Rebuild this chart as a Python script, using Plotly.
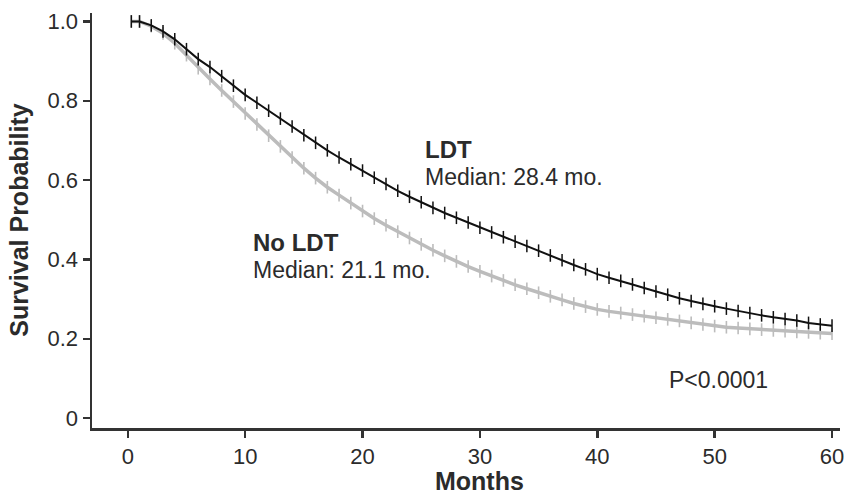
import plotly.graph_objects as go

# Kaplan-Meier estimates (month, survival probability)
months = [0.3, 1, 2, 3, 4, 5, 6, 7, 8, 9, 10, 11, 12, 13, 14, 15, 16, 17, 18, 19, 20,
          21, 22, 23, 24, 25, 26, 27, 28, 29, 30, 31, 32, 33, 34, 35, 36, 37, 38, 39, 40,
          41, 42, 43, 44, 45, 46, 47, 48, 49, 50, 51, 52, 53, 54, 55, 56, 57, 58, 59, 60]

surv_ldt = [1.000, 1.000, 0.990, 0.975, 0.955, 0.930, 0.905, 0.885, 0.862, 0.838, 0.815,
            0.795, 0.775, 0.755, 0.735, 0.713, 0.694, 0.675, 0.657, 0.640, 0.624,
            0.606, 0.590, 0.573, 0.558, 0.544, 0.530, 0.517, 0.505, 0.493, 0.480,
            0.468, 0.456, 0.445, 0.434, 0.422, 0.410, 0.398, 0.386, 0.375, 0.363,
            0.354, 0.346, 0.337, 0.328, 0.319, 0.311, 0.302, 0.295, 0.288, 0.282,
            0.276, 0.270, 0.265, 0.259, 0.254, 0.250, 0.246, 0.240, 0.236, 0.233]

surv_noldt = [1.000, 1.000, 0.988, 0.970, 0.945, 0.915, 0.882, 0.855, 0.826, 0.798, 0.768,
              0.740, 0.712, 0.685, 0.657, 0.630, 0.605, 0.582, 0.562, 0.542, 0.522,
              0.503, 0.486, 0.470, 0.454, 0.438, 0.423, 0.409, 0.395, 0.382, 0.370,
              0.358, 0.347, 0.336, 0.326, 0.316, 0.307, 0.298, 0.289, 0.281, 0.274,
              0.269, 0.265, 0.261, 0.257, 0.253, 0.249, 0.245, 0.240, 0.236, 0.232,
              0.229, 0.227, 0.225, 0.223, 0.221, 0.219, 0.217, 0.216, 0.214, 0.213]

x_ticks = [0, 10, 20, 30, 40, 50, 60]
y_ticks = [0, 0.2, 0.4, 0.6, 0.8, 1.0]
y_tick_labels = ["0", "0.2", "0.4", "0.6", "0.8", "1.0"]

FONT = "Liberation Sans, Arial, sans-serif"
AX = "#333333"
TXT = "#2b2b2b"
GRAY = "#bcbcbc"

fig = go.Figure()
fig.add_trace(go.Scatter(
    x=months, y=surv_noldt, mode="lines+markers", name="No LDT",
    line=dict(color=GRAY, width=3.5),
    marker=dict(symbol="line-ns-open", size=9, line=dict(color=GRAY, width=1.6)),
    showlegend=False, hoverinfo="skip"))
fig.add_trace(go.Scatter(
    x=months, y=surv_ldt, mode="lines+markers", name="LDT",
    line=dict(color="#111111", width=2),
    marker=dict(symbol="line-ns-open", size=9, line=dict(color="#111111", width=1.5)),
    showlegend=False, hoverinfo="skip"))

annos = [
    dict(x=25.17, y=0.677, text="<b>LDT</b>", size=24),
    dict(x=25.17, y=0.608, text="Median: 28.4 mo.", size=23),
    dict(x=10.5, y=0.442, text="<b>No LDT</b>", size=24),
    dict(x=10.5, y=0.373, text="Median: 21.1 mo.", size=23),
    dict(x=45.9, y=0.095, text="P&lt;0.0001", size=23),
]
for a in annos:
    fig.add_annotation(x=a["x"], y=a["y"], xref="x", yref="y", text=a["text"],
                       showarrow=False, xanchor="left", yanchor="middle",
                       font=dict(family=FONT, size=a["size"], color=TXT))

fig.add_annotation(x=30, y=-0.127, xref="x", yref="paper", text="<b>Months</b>",
                   showarrow=False, xanchor="center", yanchor="middle",
                   font=dict(family=FONT, size=25, color=TXT))
fig.add_annotation(x=-0.0976, y=0.5, xref="paper", yref="y", text="<b>Survival Probability</b>",
                   showarrow=False, textangle=-90, xanchor="center", yanchor="middle",
                   font=dict(family=FONT, size=25, color=TXT))

fig.update_layout(
    width=853, height=498,
    margin=dict(l=92, r=9, t=10, b=70),
    plot_bgcolor="white", paper_bgcolor="white",
    font=dict(family=FONT, size=22, color=TXT),
)
fig.update_xaxes(range=[-3.05, 60.68], tickvals=x_ticks, showgrid=False, zeroline=False,
                 showline=True, linecolor=AX, linewidth=2.5,
                 ticks="outside", ticklen=7, tickwidth=2.5, tickcolor=AX,
                 tickfont=dict(family=FONT, size=22, color=TXT))
fig.update_yaxes(range=[-0.025, 1.0213], tickvals=y_ticks, ticktext=y_tick_labels,
                 showgrid=False, zeroline=False,
                 showline=True, linecolor=AX, linewidth=2.5,
                 ticks="outside", ticklen=7, tickwidth=2.5, tickcolor=AX,
                 tickfont=dict(family=FONT, size=22, color=TXT))

fig.write_html("out.html",
               config={"displayModeBar": False, "staticPlot": True},
               post_script="document.body.style.margin='0px';document.body.style.overflow='hidden';")
